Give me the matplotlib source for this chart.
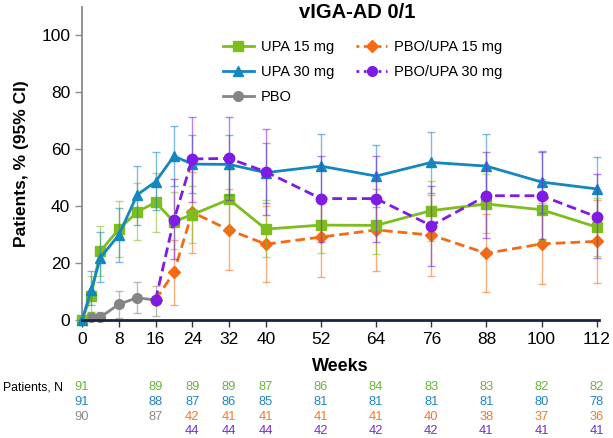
import numpy as np
import matplotlib
matplotlib.use("Agg")
import matplotlib.pyplot as plt
from matplotlib.lines import Line2D

plt.rcParams['font.family'] = ['Liberation Sans', 'DejaVu Sans']

# ---------------- data ----------------
weeks_upa = [0, 2, 4, 8, 12, 16, 20, 24, 32, 40, 52, 64, 76, 88, 100, 112]
upa15 = [0, 8.5, 24.2, 31.8, 37.9, 41.3, 34.5, 37.0, 42.3, 31.9, 33.3, 33.2, 38.4, 40.7, 38.7, 32.6]
upa15_lo = [0, 2.9, 15.5, 22.2, 28.1, 31.0, 25.0, 27.0, 32.0, 22.0, 23.4, 23.0, 27.8, 30.4, 28.0, 22.6]
upa15_hi = [0, 15.5, 33.1, 41.8, 48.2, 51.7, 45.0, 47.0, 53.0, 42.0, 44.0, 43.5, 48.9, 51.2, 49.5, 42.7]

upa30 = [0, 10.5, 21.9, 29.8, 43.9, 48.5, 57.5, 54.7, 54.6, 51.7, 54.0, 50.5, 55.3, 54.0, 48.4, 46.0]
upa30_lo = [0, 5.3, 13.5, 20.5, 33.3, 38.6, 47.0, 44.5, 44.0, 41.0, 43.5, 39.5, 44.4, 43.0, 37.5, 35.1]
upa30_hi = [0, 17.3, 30.8, 39.2, 54.0, 59.1, 68.2, 65.0, 65.0, 62.0, 65.1, 61.4, 66.1, 65.1, 59.4, 57.1]

weeks_pbo = [0, 2, 4, 8, 12, 16]
pbo = [0, 1.0, 1.0, 5.5, 7.8, 7.0]
pbo_lo = [0, 0, 0, 0.7, 2.3, 1.4]
pbo_hi = [0, 2.9, 2.9, 10.2, 13.5, 12.0]

weeks_sw = [16, 20, 24, 32, 40, 52, 64, 76, 88, 100, 112]
pu15 = [7.0, 16.7, 37.8, 31.6, 26.6, 29.1, 31.6, 29.8, 23.4, 26.7, 27.6]
pu15_lo = [7.0, 5.3, 23.4, 17.5, 13.2, 15.2, 17.2, 15.5, 9.9, 12.6, 12.9]
pu15_hi = [7.0, 28.0, 52.0, 46.0, 40.0, 43.0, 45.8, 44.0, 37.1, 41.0, 42.0]

pu30 = [7.0, 35.1, 56.5, 56.7, 52.0, 42.6, 42.6, 33.1, 43.6, 43.6, 36.2]
pu30_lo = [7.0, 21.3, 41.5, 42.0, 37.0, 27.5, 27.5, 18.9, 28.7, 28.4, 21.6]
pu30_hi = [7.0, 49.4, 71.3, 71.3, 67.0, 57.5, 57.5, 47.1, 58.8, 59.1, 51.1]

xticks = [0, 8, 16, 24, 32, 40, 52, 64, 76, 88, 100, 112]
yticks = [0, 20, 40, 60, 80, 100]

n_weeks = [0, 16, 24, 32, 40, 52, 64, 76, 88, 100, 112]
n_upa15 = ['91', '89', '89', '89', '87', '86', '84', '83', '83', '82', '82']
n_upa30 = ['91', '88', '87', '86', '85', '81', '81', '81', '81', '80', '78']
n_pbo_weeks = [0, 16]
n_pbo = ['90', '87']
n_sw_weeks = [24, 32, 40, 52, 64, 76, 88, 100, 112]
n_pu15 = ['42', '41', '41', '41', '41', '40', '38', '37', '36']
n_pu30 = ['44', '44', '44', '42', '42', '42', '41', '41', '41']

c_green = '#7DBD1E'
c_blue = '#1486C0'
c_gray = '#858585'
c_orange = '#F56A14'
c_purple = '#7F1BE3'

# ---------------- figure ----------------
W, H = 613, 438
fig = plt.figure(figsize=(W / 100, H / 100), dpi=100)
ax = fig.add_axes([82 / W, (H - 320) / H, (599 - 82) / W, (320 - 6.5) / H])
ax.set_xlim(0, 112.5)
ax.set_ylim(0, 110)


def series(x, y, lo, hi, color, marker, ms, ls, z):
    y = np.array(y); lo = np.array(lo); hi = np.array(hi)
    ax.errorbar(x, y, yerr=[y - lo, hi - y], fmt='none', ecolor=color,
                alpha=0.55, elinewidth=1.0, capsize=3, capthick=1.0, zorder=z - 1,
                clip_on=False)
    ax.plot(x, y, color=color, marker=marker, ms=ms, lw=2.0, ls=ls,
            zorder=z, clip_on=False, dashes=(3.5, 1.8) if ls == '--' else (None, None))


series(weeks_pbo, pbo, pbo_lo, pbo_hi, c_gray, 'o', 7, '-', 3)
series(weeks_sw, pu15, pu15_lo, pu15_hi, c_orange, 'D', 6, '--', 4)
series(weeks_upa, upa15, upa15_lo, upa15_hi, c_green, 's', 7.5, '-', 5)
series(weeks_upa, upa30, upa30_lo, upa30_hi, c_blue, '^', 7.5, '-', 6)
series(weeks_sw, pu30, pu30_lo, pu30_hi, c_purple, 'o', 7.5, '--', 7)

ax.set_xticks(xticks)
ax.set_yticks(yticks)
ax.tick_params(axis='both', labelsize=12.5, colors='black')
ax.tick_params(axis='y', length=5, width=1, color='#8a8a8a')
ax.tick_params(axis='x', length=5, width=1, color='#333344')
for s in ['top', 'right']:
    ax.spines[s].set_visible(False)
ax.spines['left'].set_color('#8a8a8a')
ax.spines['left'].set_linewidth(1.3)
ax.spines['bottom'].set_color('#1c2340')
ax.spines['bottom'].set_linewidth(2.0)
ax.spines['bottom'].set_zorder(10)

ax.set_xlabel('Weeks', fontsize=13, fontweight='bold', labelpad=8)
ax.set_ylabel('Patients, % (95% CI)', fontsize=12.5, fontweight='bold', labelpad=9)

fig.text(357 / W, 1 - 13 / H, 'vIGA-AD 0/1', ha='center', va='center',
         fontsize=14.5, fontweight='bold')

handles = [
    Line2D([], [], color=c_green, marker='s', ms=7, lw=2),
    Line2D([], [], color=c_blue, marker='^', ms=7, lw=2),
    Line2D([], [], color=c_gray, marker='o', ms=7, lw=2),
    Line2D([], [], color=c_orange, marker='D', ms=6, lw=2, ls=':'),
    Line2D([], [], color=c_purple, marker='o', ms=7, lw=2, ls=':'),
]
labels = ['UPA 15 mg', 'UPA 30 mg', 'PBO', 'PBO/UPA 15 mg', 'PBO/UPA 30 mg']
leg = fig.legend(handles, labels, ncol=2, loc='upper left',
                 bbox_to_anchor=(210 / W, 1 - 27 / H), frameon=False,
                 fontsize=10.5, handlelength=2.1, handletextpad=0.5,
                 columnspacing=1.5, labelspacing=0.75)

# ---------------- number-at-risk table ----------------
rows_y = [387, 402, 416.5, 431]
fig.text(3 / W, 1 - rows_y[0] / H, 'Patients, N', ha='left', va='center', fontsize=8.8)
trans = matplotlib.transforms.blended_transform_factory(ax.transData, fig.transFigure)
table = [
    (n_weeks, n_upa15, '#6DB33F', 0),
    (n_weeks, n_upa30, '#1F87C2', 1),
    (n_pbo_weeks, n_pbo, '#8C8C8C', 2),
    (n_sw_weeks, n_pu15, '#F07A2F', 2),
    (n_sw_weeks, n_pu30, '#7A2FD0', 3),
]
for wk, vals, col, r in table:
    for w, v in zip(wk, vals):
        fig.text(w, 1 - rows_y[r] / H, v, ha='center', va='center',
                 fontsize=9.3, color=col, transform=trans)

fig.savefig('out.png', dpi=100)
